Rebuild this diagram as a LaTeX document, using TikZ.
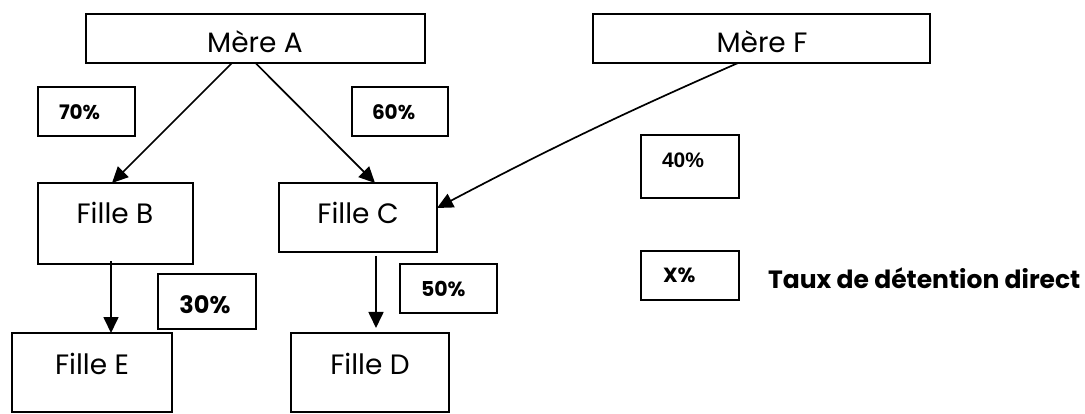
\documentclass[tikz,border=0pt]{standalone}
\usepackage{fontspec}
\setmainfont{Poppins}
\newfontfamily\arialfont{Liberation Sans}
\usetikzlibrary{arrows.meta}
\tikzset{
  box/.style={draw, line width=2pt, inner sep=0pt, outer sep=0pt},
  lab/.style={inner sep=0pt, outer sep=0pt},
  arr/.style={line width=1.7pt, -{Triangle[length=16pt,width=15pt]}},
}
\begin{document}
\begin{tikzpicture}[x=1pt,y=-1pt]
\useasboundingbox[fill=white] (0,0) rectangle (1085,414);
% boxes
\node[box, minimum width=339pt, minimum height=49pt] (A) at (255.5,38.5) {};
\node[box, minimum width=337pt, minimum height=49pt] (F) at (761.5,38.5) {};
\node[box, minimum width=97pt, minimum height=49pt] (p70) at (86.5,111.5) {};
\node[box, minimum width=96pt, minimum height=49pt] (p60) at (400,111.5) {};
\node[box, minimum width=98pt, minimum height=63pt] (p40) at (690,166.5) {};
\node[box, minimum width=98pt, minimum height=49pt] (px) at (690,275.5) {};
\node[box, minimum width=155pt, minimum height=81pt] (B) at (115.5,223.5) {};
\node[box, minimum width=158pt, minimum height=69pt] (C) at (358,217.5) {};
\node[box, minimum width=98pt, minimum height=55pt] (p30) at (207,301.5) {};
\node[box, minimum width=97pt, minimum height=49pt] (p50) at (448.5,288.5) {};
\node[box, minimum width=160pt, minimum height=79pt] (E) at (92,372.5) {};
\node[box, minimum width=158pt, minimum height=79pt] (D) at (370,372.5) {};
% texts
\node[lab, anchor=base] (tA) at (255,53) {\fontsize{28}{34}\selectfont Mère A};
\node[lab, anchor=base] (tF) at (762,53) {\fontsize{28}{34}\selectfont Mère F};
\node[lab, anchor=base] (tB) at (115,224) {\fontsize{28}{34}\selectfont Fille B};
\node[lab, anchor=base] (tC) at (358,224) {\fontsize{28}{34}\selectfont Fille C};
\node[lab, anchor=base] (tE) at (92,374) {\fontsize{28}{34}\selectfont Fille E};
\node[lab, anchor=base] (tD) at (370,374) {\fontsize{28}{34}\selectfont Fille D};
\node[lab, anchor=base west] (t70) at (59,120) {\fontsize{20}{24}\selectfont\bfseries 70\%};
\node[lab, anchor=base west] (t60) at (372,120) {\fontsize{20}{24}\selectfont\bfseries 60\%};
\node[lab, anchor=base west] (t40) at (662,168) {\arialfont\fontsize{21}{25}\selectfont\bfseries 40\%};
\node[lab, anchor=base] (t30) at (205,313) {\fontsize{24}{29}\selectfont\bfseries 30\%};
\node[lab, anchor=base west] (t50) at (421,297) {\fontsize{20.5}{25}\selectfont\bfseries 50\%};
\node[lab, anchor=base west] (tx) at (663,283) {\fontsize{20.5}{24}\selectfont\bfseries X\%};
\node[lab, anchor=base west] (leg) at (768,289) {\fontsize{25}{30}\selectfont\bfseries Taux de détention direct};
% connectors
\draw[arr] ([xshift=-23.5pt]A.south) -- ([xshift=-3.5pt]B.north);
\draw[arr] (A.south) -- ([xshift=17pt]C.north);
\draw[arr] ([xshift=-23.5pt]F.south) to[bend right=2] ([yshift=9.5pt]C.east);
\draw[arr] ([xshift=-4.5pt,yshift=3pt]B.south) -- ([xshift=19pt]E.north);
\draw[arr] ([xshift=18pt,yshift=-4pt]C.south) -- ([xshift=6pt,yshift=5pt]D.north);
\end{tikzpicture}
\end{document}
